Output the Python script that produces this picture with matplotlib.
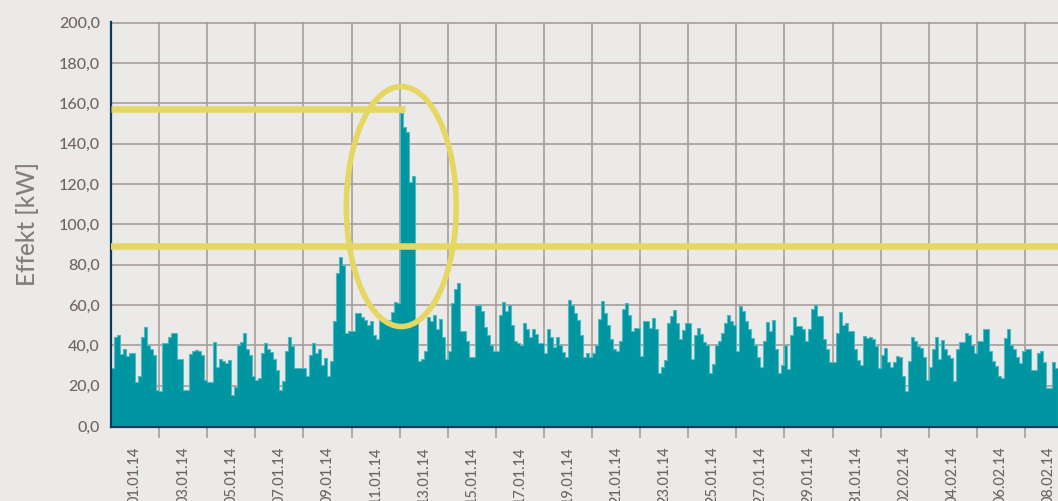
import matplotlib
matplotlib.use("Agg")
import matplotlib.pyplot as plt
import numpy as np
from matplotlib.patches import Ellipse

# ---- data (3-hour resolution, kW), starting 01.01.14 00:00 ----
load_kw = [
    29, 44, 45, 35.5, 38, 34.5, 36, 36, 22, 25, 44, 49, 40, 38, 35, 18,
    17.3, 41, 41, 44, 46, 46, 33, 33, 18, 18, 35.5, 37, 37.5, 37, 35, 23,
    22, 22, 41.4, 29.4, 33, 32, 31.4, 32.7, 15.4, 19.5, 40, 41.6, 46, 38, 35, 25,
    23, 24, 36, 41, 38, 36.5,
    33, 28, 18, 22.5, 37, 44, 39.6, 29, 29, 29, 29, 25, 35, 41, 36, 38,
    30, 33.5, 25, 32, 52, 76, 84, 80, 46, 47, 47, 56, 56, 54, 52.5, 50, 52, 45, 43,
    52.5, 52.5, 52.5, 52.5, 56.6, 61.5, 61,
    155, 148, 146, 121, 124, 51, 32, 33, 37,
    54, 52, 55, 48, 53, 44, 33,
    37, 61, 68, 71, 47, 47, 42, 34, 34, 60, 60, 57, 49, 45, 40, 37,
    37, 55, 61.6, 57, 60, 50, 42, 41, 40, 51, 48, 44, 48, 45.5, 41, 41,
    36, 48, 44, 39, 44, 40, 36.5, 34, 62.7, 60, 56, 52.5, 45, 34, 36,
    34, 36, 40, 53, 62, 56, 50, 43, 38, 37, 42, 58, 61, 55, 47, 48.7, 48.7,
    34.8, 52, 52, 48.5, 53.3, 48, 26.4, 29.4, 32.7, 51.3, 54.5, 57.4, 51, 43, 47.8, 51.3, 51,
    33, 45, 48.7, 45.5, 41.6, 40, 26.4, 30.7, 40, 42, 46, 51, 55, 52, 50, 37, 59.4, 57, 52, 48,
    43.4, 40, 34.3, 29.4, 42, 51.7, 47, 52.5, 38, 26.4, 30, 40, 28.5, 45, 54.2, 49.5, 49.5,
    48, 42, 48, 58, 60.2, 54.5, 54.5, 43, 38, 31.8, 31.8, 46.2, 56.6, 50, 51.3, 47.2, 47.2,
    38.1, 32.7, 30.2, 44.5, 43.5, 44, 43, 39.6, 29, 35, 38.8, 31.8, 29.4, 31.6, 34.8, 34, 25, 17.5, 32,
    44, 42, 39.8, 38.5, 34, 23, 29.4, 38, 44, 33, 42.6, 38, 35, 33.5, 22.3, 38,
    41.4, 41.4, 46, 45, 40, 36.3, 42.3, 42.3, 48.3, 48.3, 37, 32.2, 29.7, 25, 24, 43.4, 48,
    40, 38, 34, 31, 37, 38, 38, 28, 28, 36, 37, 31.9, 19, 19, 31.9, 28.6,
]
hours_per_bin = 3

date_labels = [
    "01.01.14", "03.01.14", "05.01.14", "07.01.14", "09.01.14",
    "11.01.14", "13.01.14", "15.01.14", "17.01.14", "19.01.14",
    "21.01.14", "23.01.14", "25.01.14", "27.01.14", "29.01.14",
    "31.01.14", "02.02.14", "04.02.14", "06.02.14", "08.02.14",
]
y_ticks = [0, 20, 40, 60, 80, 100, 120, 140, 160, 180, 200]
peak_level = 157
limit_level = 89
peak_day = 12.0

# ---- style ----
BG = "#ECEAE8"
TEAL = "#0096A1"
TEAL_EDGE = "#52BAC2"
YELLOW = "#E5D762"
GRID = "#A69E9B"
NAVY = "#0C3A5D"
TXT = "#6F6461"
LABEL = "#857D7B"

plt.rcParams["font.family"] = ["Lato", "DejaVu Sans"]

W, H = 1058, 501
fig = plt.figure(figsize=(W / 100, H / 100), dpi=100, facecolor=BG)
left_px, top_px, bottom_px = 111, 22, 427
ax = fig.add_axes([left_px / W, (H - bottom_px) / H, 1 - left_px / W, (bottom_px - top_px) / H])
ax.set_facecolor(BG)

n = len(load_kw)
bin_w = hours_per_bin / 24.0
t = np.arange(n) * bin_w
vals = np.array(load_kw, dtype=float)

ax.bar(t, vals, width=bin_w, align="edge", color=TEAL, linewidth=0, zorder=2)
ax.stairs(vals, np.append(t, t[-1] + bin_w), color=TEAL_EDGE, linewidth=0.8, zorder=2.1)

px_per_day = 24.05
ax.set_xlim(0, (W - left_px) / px_per_day)
ax.set_ylim(-0.5, 200.3)

# grid / ticks
major = np.arange(2, 39, 2)
minor = np.arange(1, 1 + 2 * len(date_labels), 2)
ax.set_xticks(major)
ax.set_xticklabels([""] * len(major))
ax.set_xticks(minor, minor=True)
ax.set_xticklabels(date_labels, minor=True, rotation=90, fontweight="medium")
ax.tick_params(axis="x", which="major", length=8, width=1.2, color=GRID)
ax.tick_params(axis="x", which="minor", length=0, pad=14, labelsize=10.5, labelcolor=TXT)

ax.set_yticks(y_ticks)
ax.set_yticklabels([f"{v:.1f}".replace(".", ",") for v in y_ticks], fontweight="medium")
ax.tick_params(axis="y", length=0, pad=8, labelsize=11.5, labelcolor=TXT)

ax.grid(True, which="major", axis="both", color=GRID, linewidth=1.2, zorder=1)
ax.set_axisbelow(True)

for s in ("top", "right"):
    ax.spines[s].set_visible(False)
for s in ("left", "bottom"):
    ax.spines[s].set_color(NAVY)
    ax.spines[s].set_linewidth(1.6)
    ax.spines[s].set_zorder(3)

ax.set_ylabel("Effekt [kW]", fontsize=17.5, color=LABEL, labelpad=14, fontweight="medium")

# annotations
ax.hlines(peak_level, 0, peak_day + 0.22, color=YELLOW, linewidth=4.7, zorder=4, capstyle="butt")
ax.axhline(limit_level, color=YELLOW, linewidth=4.7, zorder=4)
ax.add_patch(Ellipse((peak_day + 0.07, 108.8), width=4.57, height=119, fill=False,
                     edgecolor=YELLOW, linewidth=4, zorder=4))

fig.savefig("out.png", dpi=100, facecolor=BG)
